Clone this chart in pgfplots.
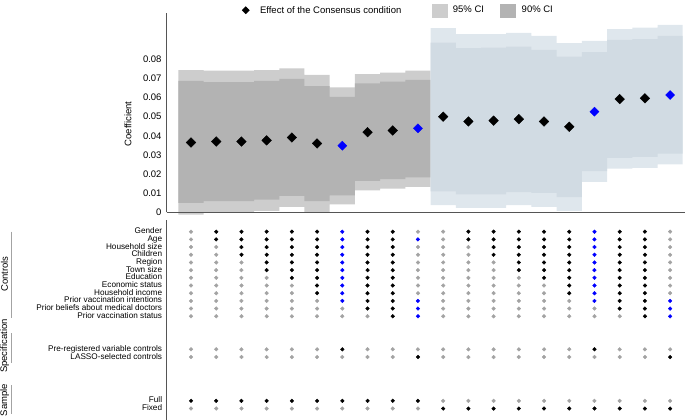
\documentclass[border=0pt]{standalone}
\usepackage{fontspec}
\setmainfont{Liberation Sans}
\usepackage{pgfplots}
\pgfplotsset{compat=1.18}

\definecolor{ciwide}{HTML}{CDCDCD}
\definecolor{cinarrow}{HTML}{B3B3B3}
\definecolor{ciwideb}{HTML}{DFE7ED}
\definecolor{cinarrowb}{HTML}{D1DBE3}
\definecolor{dotgray}{HTML}{A3A3A3}
\definecolor{spblue}{HTML}{0000FF}
\definecolor{axgray}{HTML}{555555}

\begin{document}
\begin{tikzpicture}[font=\fontsize{9.5}{11}\selectfont]
\useasboundingbox (0,0) rectangle (685pt,-420pt);

% coefficient panel
\begin{axis}[
  name=coef,
  at={(166.7pt,-212.3pt)}, anchor=south west,
  width=518.3pt, height=199pt, scale only axis,
  xmin=0.036, xmax=20.59, ymin=0, ymax=0.10405,
  clip=false, axis on top,
  axis x line*=bottom, axis y line*=left,
  axis line style={axgray, line width=0.9pt},
  xtick=\empty,
  ytick={0,0.01,0.02,0.03,0.04,0.05,0.06,0.07,0.08},
  yticklabels={0,0.01,0.02,0.03,0.04,0.05,0.06,0.07,0.08},
  major tick length=0pt,
  yticklabel style={inner sep=0pt, xshift=-5pt},
  ylabel={Coefficient},
  ylabel style={at={(axis description cs:-0.0747,0.4437)}, anchor=center},
  legend columns=3,
  legend style={draw=none, fill=none, inner sep=0pt, outer sep=0pt,
    at={(0.1434,1.015)}, anchor=west,
    nodes={inner sep=0pt}, column sep=0pt},
]
% 95% CI, baseline specifications
\addplot[fill=ciwide, draw=none, forget plot] coordinates {
  (0.5,0.0744) (1.5,0.0744) (1.5,0.0741) (2.5,0.0741) (3.5,0.0741) (3.5,0.0744) (4.5,0.0744)
  (4.5,0.0753) (5.5,0.0753) (5.5,0.0718) (6.5,0.0718) (6.5,0.0653) (7.5,0.0653) (7.5,0.0723)
  (8.5,0.0723) (8.5,0.0730) (9.5,0.0730) (9.5,0.0741) (10.5,0.0741)
  (10.5,0.0133) (9.5,0.0133) (9.5,0.0124) (8.5,0.0124) (8.5,0.0115) (7.5,0.0115) (7.5,0.0042)
  (6.5,0.0042) (6.5,-0.0002) (5.5,-0.0002) (5.5,0.0028) (4.5,0.0028) (4.5,0.0007) (3.5,0.0007)
  (3.5,0.0002) (1.5,0.0002) (1.5,-0.0012) (0.5,-0.0012)} -- cycle;
% 90% CI
\addplot[fill=cinarrow, draw=none, forget plot] coordinates {
  (0.5,0.0687) (1.5,0.0687) (1.5,0.0681) (3.5,0.0681) (3.5,0.0687) (4.5,0.0687)
  (4.5,0.0697) (5.5,0.0697) (5.5,0.0660) (6.5,0.0660) (6.5,0.0604) (7.5,0.0604) (7.5,0.0674)
  (8.5,0.0674) (8.5,0.0683) (9.5,0.0683) (9.5,0.0692) (10.5,0.0692)
  (10.5,0.0182) (9.5,0.0182) (9.5,0.0173) (8.5,0.0173) (8.5,0.0164) (7.5,0.0164) (7.5,0.0089)
  (6.5,0.0089) (6.5,0.0058) (5.5,0.0058) (5.5,0.0086) (4.5,0.0086) (4.5,0.0066) (3.5,0.0066)
  (3.5,0.0058) (1.5,0.0058) (1.5,0.0049) (0.5,0.0049)} -- cycle;
% 95% CI, fixed sample
\addplot[fill=ciwideb, draw=none, forget plot] coordinates {
  (10.5,0.0963) (11.5,0.0963) (11.5,0.0931) (13.5,0.0931) (13.5,0.0938) (14.5,0.0938)
  (14.5,0.0922) (15.5,0.0922) (15.5,0.0884) (16.5,0.0884) (16.5,0.0896) (17.5,0.0896)
  (17.5,0.0958) (18.5,0.0958) (18.5,0.0966) (19.5,0.0966) (19.5,0.0980) (20.5,0.0980)
  (20.5,0.0250) (19.5,0.0250) (19.5,0.0232) (18.5,0.0232) (18.5,0.0229) (17.5,0.0229)
  (17.5,0.0159) (16.5,0.0159) (16.5,0.0007) (15.5,0.0007) (15.5,0.0028) (14.5,0.0028)
  (14.5,0.0037) (13.5,0.0037) (13.5,0.0023) (11.5,0.0023) (11.5,0.0037) (10.5,0.0037)} -- cycle;
% 90% CI
\addplot[fill=cinarrowb, draw=none, forget plot] coordinates {
  (10.5,0.0887) (11.5,0.0887) (11.5,0.0858) (12.5,0.0858) (12.5,0.0861) (13.5,0.0861)
  (13.5,0.0866) (14.5,0.0866) (14.5,0.0849) (15.5,0.0849) (15.5,0.0814) (16.5,0.0814)
  (16.5,0.0837) (17.5,0.0837) (17.5,0.0901) (18.5,0.0901) (18.5,0.0905) (19.5,0.0905)
  (19.5,0.0922) (20.5,0.0922)
  (20.5,0.0307) (19.5,0.0307) (19.5,0.0290) (18.5,0.0290) (18.5,0.0285) (17.5,0.0285)
  (17.5,0.0215) (16.5,0.0215) (16.5,0.0080) (15.5,0.0080) (15.5,0.0101) (14.5,0.0101)
  (14.5,0.0106) (13.5,0.0106) (13.5,0.0094) (11.5,0.0094) (11.5,0.0110) (10.5,0.0110)} -- cycle;

\addplot[only marks, black, mark=square*, mark size=3.4pt, mark options={rotate=45},
  legend image code/.code={\path[draw=none, fill=none] (0pt,-5pt) rectangle (19pt,5pt);
    \fill[black] (4.7pt,3.6pt) -- (8.3pt,0pt) -- (4.7pt,-3.6pt) -- (1.1pt,0pt) -- cycle;}]
  coordinates {(1,0.0365) (2,0.0370) (3,0.0370) (4,0.0376) (5,0.0391) (6,0.0360) (8,0.0419)
  (9,0.0428) (11,0.0500) (12,0.0475) (13,0.0479) (14,0.0487) (15,0.0475) (16,0.0447)
  (18,0.0592) (19,0.0596)};
\addlegendentry{\makebox[171.7pt][l]{Effect of the Consensus condition}}
\addlegendimage{legend image code/.code={\fill[ciwide] (0pt,-6.5pt) rectangle (15pt,6.5pt);
    \path[draw=none] (21pt,0pt);}}
\addlegendentry{\makebox[46.6pt][l]{95\% CI}}
\addlegendimage{legend image code/.code={\fill[cinarrow] (0pt,-6.5pt) rectangle (15pt,6.5pt);
    \path[draw=none] (22pt,0pt);}}
\addlegendentry{90\% CI}
\addplot[only marks, spblue, mark=square*, mark size=3.2pt, mark options={rotate=45}, forget plot]
  coordinates {(7,0.0348) (10,0.0439) (17,0.0526) (20,0.0613)};
\end{axis}

% specification panel
\begin{axis}[
  name=spec,
  at={(166.7pt,-420pt)}, anchor=south west,
  width=518.3pt, height=200pt, scale only axis,
  xmin=0.036, xmax=20.59, ymin=-0.52, ymax=25.49, y dir=reverse,
  clip=false,
  axis x line=none, axis y line*=left,
  axis line style={axgray, line width=0.9pt},
  ytick={1,2,3,4,5,6,7,8,9,10,11,12,16.3,17.3,23,24},
  yticklabels={Gender,Age,Household size,Children,Region,Town size,Education,
    Economic status,Household income,Prior vaccination intentions,
    Prior beliefs about medical doctors,Prior vaccination status,
    Pre-registered variable controls,LASSO-selected controls,Full,Fixed},
  yticklabel style={font=\fontsize{8.2}{8.6}\selectfont, inner sep=0pt, xshift=-4.4pt,
    text height=5.6pt, text depth=1.4pt},
  major tick length=0pt,
]
\addplot[only marks, dotgray, mark=square*, mark size=1.3pt, mark options={rotate=45}]
  coordinates {
  (1,1) (10,1) (11,1) (20,1)
  (1,2) (11,2) (20,2)
  (1,3) (2,3) (10,3) (11,3) (12,3) (20,3)
  (1,4) (2,4) (10,4) (11,4) (12,4) (20,4)
  (1,5) (2,5) (3,5) (10,5) (11,5) (12,5) (13,5) (20,5)
  (1,6) (2,6) (3,6) (10,6) (11,6) (12,6) (13,6) (20,6)
  (1,7) (2,7) (3,7) (4,7) (10,7) (11,7) (12,7) (13,7) (14,7) (20,7)
  (1,8) (2,8) (3,8) (4,8) (5,8) (10,8) (11,8) (12,8) (13,8) (14,8) (15,8) (20,8)
  (1,9) (2,9) (3,9) (4,9) (5,9) (10,9) (11,9) (12,9) (13,9) (14,9) (15,9) (20,9)
  (1,10) (2,10) (3,10) (4,10) (5,10) (6,10) (11,10) (12,10) (13,10) (14,10) (15,10) (16,10)
  (1,11) (2,11) (3,11) (4,11) (5,11) (6,11) (7,11) (11,11) (12,11) (13,11) (14,11) (15,11) (16,11) (17,11)
  (1,12) (2,12) (3,12) (4,12) (5,12) (6,12) (7,12) (8,12) (11,12) (12,12) (13,12) (14,12) (15,12) (16,12) (17,12) (18,12)
  (1,16.3) (2,16.3) (3,16.3) (4,16.3) (5,16.3) (6,16.3) (8,16.3) (9,16.3) (10,16.3)
  (11,16.3) (12,16.3) (13,16.3) (14,16.3) (15,16.3) (16,16.3) (18,16.3) (19,16.3) (20,16.3)
  (1,17.3) (2,17.3) (3,17.3) (4,17.3) (5,17.3) (6,17.3) (7,17.3) (8,17.3) (9,17.3)
  (11,17.3) (12,17.3) (13,17.3) (14,17.3) (15,17.3) (16,17.3) (17,17.3) (18,17.3) (19,17.3)
  (11,23) (12,23) (13,23) (14,23) (15,23) (16,23) (17,23) (18,23) (19,23) (20,23)
  (1,24) (2,24) (3,24) (4,24) (5,24) (6,24) (7,24) (8,24) (9,24) (10,24)};
\addplot[only marks, black, mark=square*, mark size=1.3pt, mark options={rotate=45}]
  coordinates {
  (2,1) (3,1) (4,1) (5,1) (6,1) (8,1) (9,1) (12,1) (13,1) (14,1) (15,1) (16,1) (18,1) (19,1)
  (2,2) (3,2) (4,2) (5,2) (6,2) (8,2) (9,2) (12,2) (13,2) (14,2) (15,2) (16,2) (18,2) (19,2)
  (3,3) (4,3) (5,3) (6,3) (8,3) (9,3) (13,3) (14,3) (15,3) (16,3) (18,3) (19,3)
  (3,4) (4,4) (5,4) (6,4) (8,4) (9,4) (13,4) (14,4) (15,4) (16,4) (18,4) (19,4)
  (4,5) (5,5) (6,5) (8,5) (9,5) (14,5) (15,5) (16,5) (18,5) (19,5)
  (4,6) (5,6) (6,6) (8,6) (9,6) (14,6) (15,6) (16,6) (18,6) (19,6)
  (5,7) (6,7) (8,7) (9,7) (15,7) (16,7) (18,7) (19,7)
  (6,8) (8,8) (9,8) (16,8) (18,8) (19,8)
  (6,9) (8,9) (9,9) (16,9) (18,9) (19,9)
  (8,10) (9,10) (18,10) (19,10)
  (8,11) (9,11) (18,11) (19,11)
  (9,12) (19,12)
  (7,16.3) (17,16.3)
  (10,17.3) (20,17.3)
  (1,23) (2,23) (3,23) (4,23) (5,23) (6,23) (7,23) (8,23) (9,23) (10,23)
  (11,24) (12,24) (13,24) (14,24) (15,24) (16,24) (17,24) (18,24) (19,24) (20,24)};
\addplot[only marks, spblue, mark=square*, mark size=1.3pt, mark options={rotate=45}]
  coordinates {
  (7,1) (17,1)
  (7,2) (10,2) (17,2)
  (7,3) (17,3) (7,4) (17,4) (7,5) (17,5) (7,6) (17,6)
  (7,7) (17,7) (7,8) (17,8) (7,9) (17,9)
  (7,10) (10,10) (17,10) (20,10)
  (10,11) (20,11)
  (10,12) (20,12)};
\end{axis}

% group labels
\draw[dotgray, line width=0.8pt] (11.7pt,-231.7pt) -- (11.7pt,-318.3pt);
\draw[dotgray, line width=0.8pt] (11.7pt,-333pt) -- (11.7pt,-363pt);
\draw[dotgray, line width=0.8pt] (11.7pt,-385pt) -- (11.7pt,-414pt);
\node[rotate=90, inner sep=0pt] at (4.6pt,-274pt) {Controls};
\node[rotate=90, inner sep=0pt] at (4.6pt,-346pt) {Specification};
\node[rotate=90, inner sep=0pt] at (4.6pt,-400pt) {Sample};
\end{tikzpicture}
\end{document}
